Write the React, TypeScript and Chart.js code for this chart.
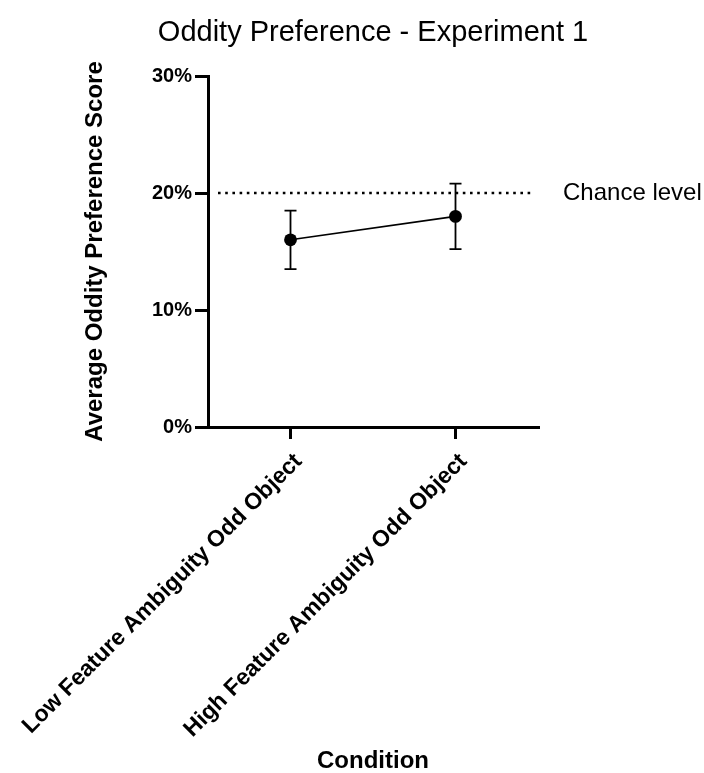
import React, { useEffect, useRef } from "react";
import { Chart, registerables } from "chart.js";

Chart.register(...registerables);

const chartTitle = "Oddity Preference - Experiment 1";
const categories = ["Low Feature Ambiguity Odd Object", "High Feature Ambiguity Odd Object"];
const meanScores = [16, 18];
const semScores = [2.5, 2.8];
const chanceLevel = 20;
const chanceLabel = "Chance level";
const yTicks = [0, 10, 20, 30];

const FONT = "'Liberation Sans', Arial, Helvetica, sans-serif";

const errorBarPlugin = {
  id: "errorBars",
  afterDatasetsDraw(chart: any) {
    const { ctx } = chart;
    const meta = chart.getDatasetMeta(0);
    const yScale = chart.scales.y;
    ctx.save();
    ctx.strokeStyle = "#000";
    ctx.lineWidth = 1.8;
    meta.data.forEach((pt: any, i: number) => {
      const x = pt.x;
      const yHi = yScale.getPixelForValue(meanScores[i] + semScores[i]);
      const yLo = yScale.getPixelForValue(meanScores[i] - semScores[i]);
      const cap = 6;
      ctx.beginPath();
      ctx.moveTo(x, yHi);
      ctx.lineTo(x, yLo);
      ctx.moveTo(x - cap, yHi);
      ctx.lineTo(x + cap, yHi);
      ctx.moveTo(x - cap, yLo);
      ctx.lineTo(x + cap, yLo);
      ctx.stroke();
    });
    ctx.restore();
  },
};

const chancePlugin = {
  id: "chanceLine",
  beforeDatasetsDraw(chart: any) {
    const { ctx, chartArea } = chart;
    const y = chart.scales.y.getPixelForValue(chanceLevel);
    ctx.save();
    ctx.strokeStyle = "#000";
    ctx.lineWidth = 2.6;
    ctx.setLineDash([2.6, 4.6]);
    ctx.beginPath();
    ctx.moveTo(chartArea.left + 10, y);
    ctx.lineTo(chartArea.right - 6, y);
    ctx.stroke();
    ctx.setLineDash([]);
    ctx.fillStyle = "#000";
    ctx.font = `24px ${FONT}`;
    ctx.textAlign = "left";
    ctx.textBaseline = "middle";
    ctx.fillText(chanceLabel, chartArea.right + 25, y);
    ctx.restore();
  },
};

const titlePlugin = {
  id: "centeredTitle",
  afterDraw(chart: any) {
    const { ctx, chartArea } = chart;
    ctx.save();
    ctx.fillStyle = "#000";
    ctx.font = `29px ${FONT}`;
    ctx.textAlign = "center";
    ctx.textBaseline = "middle";
    ctx.fillText(chartTitle, (chartArea.left + chartArea.right) / 2, 33);
    ctx.restore();
  },
};

export default function App() {
  const canvasRef = useRef<HTMLCanvasElement | null>(null);

  useEffect(() => {
    if (!canvasRef.current) return;
    const chart = new Chart(canvasRef.current, {
      type: "line",
      data: {
        labels: categories,
        datasets: [
          {
            data: meanScores,
            borderColor: "#000",
            borderWidth: 1.6,
            pointRadius: 6.4,
            pointBackgroundColor: "#000",
            pointBorderColor: "#000",
            pointBorderWidth: 0,
            tension: 0,
            fill: false,
          },
        ],
      },
      options: {
        responsive: false,
        animation: false,
        layout: { padding: { left: 0, right: 166, top: 76, bottom: 0 } },
        plugins: {
          legend: { display: false },
          tooltip: { enabled: false },
          title: { display: false },
        },
        scales: {
          x: {
            type: "category",
            offset: true,
            afterFit(scale: any) {
              scale.height = 346;
              scale.paddingLeft = 0;
              scale.paddingRight = 0;
            },
            grid: {
              display: true,
              drawOnChartArea: false,
              drawTicks: true,
              tickLength: 12,
              tickColor: "#000",
              tickWidth: 3,
              lineWidth: 3,
              color: "#000",
            },
            border: { display: true, color: "#000", width: 3 },
            ticks: {
              color: "#000",
              font: { family: FONT, size: 23, weight: "bold" },
              minRotation: 45,
              maxRotation: 45,
              autoSkip: false,
              padding: 9,
              labelOffset: 8,
            },
            title: {
              display: true,
              text: "Condition",
              color: "#000",
              font: { family: FONT, size: 24, weight: "bold", lineHeight: 1 },
              padding: { top: 0, bottom: 0 },
            },
          },
          y: {
            min: 0,
            max: 30,
            afterFit(scale: any) {
              scale.width = 208;
            },
            afterBuildTicks(scale: any) {
              scale.ticks = yTicks.map((v) => ({ value: v }));
            },
            grid: {
              display: true,
              drawOnChartArea: false,
              drawTicks: true,
              tickLength: 13,
              tickColor: "#000",
              tickWidth: 3,
              lineWidth: 3,
              color: "#000",
            },
            border: { display: true, color: "#000", width: 3 },
            ticks: {
              color: "#000",
              font: { family: FONT, size: 20, weight: "bold" },
              padding: 3,
              callback: (v: any) => `${v}%`,
            },
            title: {
              display: true,
              text: "Average Oddity Preference Score",
              color: "#000",
              font: { family: FONT, size: 24, weight: "bold", lineHeight: 1.2 },
              padding: { top: 80.6, bottom: 0 },
            },
          },
        },
      },
      plugins: [chancePlugin, errorBarPlugin, titlePlugin],
    });
    return () => chart.destroy();
  }, []);

  return (
    <div style={{ position: "fixed", left: 0, top: 0, width: 704, height: 773 }}>
      <canvas ref={canvasRef} width={704} height={773} style={{ display: "block" }} />
    </div>
  );
}
